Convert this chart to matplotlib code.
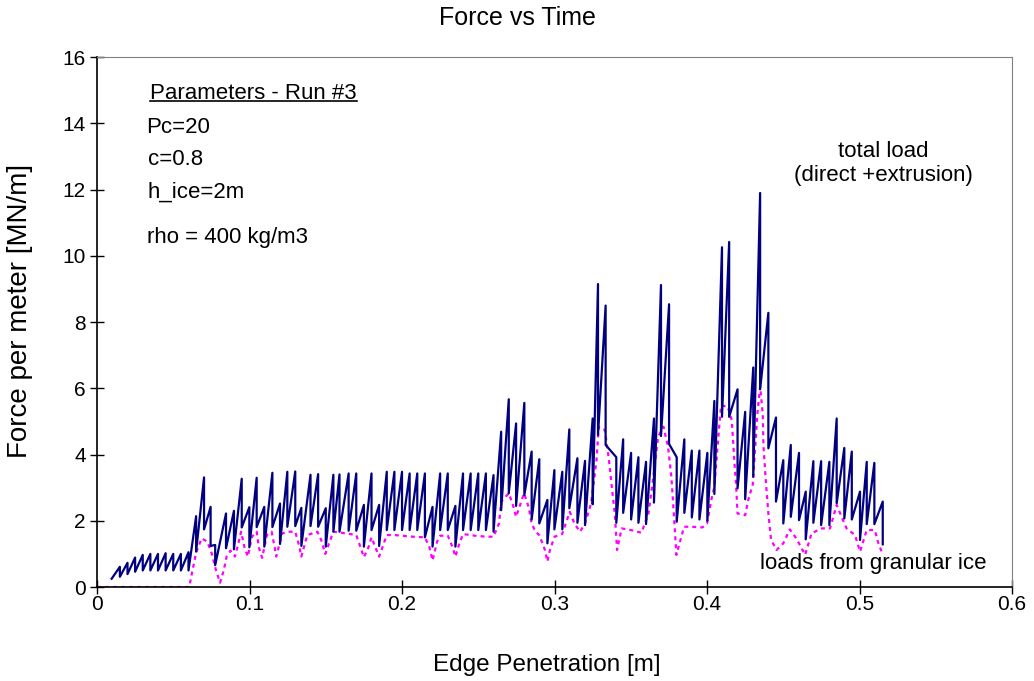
import numpy as np
import matplotlib.pyplot as plt
from matplotlib.lines import Line2D

plt.rcParams['font.family'] = ['Liberation Sans', 'DejaVu Sans']

# total load (direct + extrusion): at each penetration step the load climbs to
# a peak and then drops back (failure) at the same penetration
tooth_x = [0.0096, 0.015, 0.02, 0.025, 0.03, 0.035, 0.04, 0.045, 0.05, 0.055, 0.06,
           0.065, 0.0702, 0.0745, 0.0775, 0.0846, 0.0898, 0.0949, 0.0999, 0.1047, 0.1097,
           0.115, 0.12, 0.1248, 0.13, 0.134, 0.14, 0.145, 0.15, 0.155, 0.159,
           0.165, 0.17, 0.175, 0.18, 0.185, 0.19, 0.195, 0.2, 0.205, 0.21,
           0.215, 0.22, 0.225, 0.23, 0.235, 0.24, 0.245, 0.25, 0.255, 0.26,
           0.265, 0.27, 0.2748, 0.2802, 0.285, 0.29, 0.2953, 0.2999, 0.3051, 0.3097,
           0.315, 0.32, 0.325, 0.3285, 0.3335, 0.3405, 0.345, 0.3502, 0.355, 0.36,
           0.3652, 0.3698, 0.3751, 0.3801, 0.3851, 0.39, 0.395, 0.4002, 0.4048, 0.4098,
           0.4145, 0.42, 0.425, 0.4303, 0.4348, 0.4402, 0.4452, 0.45, 0.4549, 0.4603,
           0.4647, 0.4697, 0.4748, 0.4802, 0.485, 0.49, 0.4949, 0.5003, 0.5047, 0.5097,
           0.5152]
tooth_peak = [0.25, 0.61, 0.73, 0.89, 0.97, 1.0, 1.0, 1.02, 1.0, 1.0, 1.05,
              2.14, 3.31, 2.42, 1.27, 2.22, 2.3, 3.27, 2.41, 3.3, 2.42,
              3.45, 2.52, 3.48, 3.49, 2.39, 3.39, 3.41, 2.38, 3.39, 3.4,
              3.43, 3.43, 2.48, 3.43, 2.48, 3.48, 3.48, 3.48, 3.43, 3.43,
              3.43, 2.42, 3.43, 3.43, 2.45, 3.43, 3.43, 3.43, 3.43, 3.38,
              4.69, 5.67, 4.94, 5.56, 4.09, 3.86, 2.63, 3.53, 3.48, 4.76,
              3.89, 3.81, 5.09, 9.15, 8.5, 3.92, 4.46, 4.05, 3.92, 3.78,
              5.09, 9.12, 8.54, 3.92, 4.46, 4.12, 4.12, 4.05, 5.62, 10.26,
              10.42, 5.97, 5.29, 6.63, 11.9, 8.28, 5.12, 3.83, 4.29, 4.05,
              2.88, 3.8, 3.8, 3.78, 5.09, 4.2, 4.09, 2.88, 3.78, 3.75,
              2.58]
tooth_trough = [0.25, 0.31, 0.39, 0.46, 0.5, 0.5, 0.5, 0.5, 0.5, 0.5, 0.5,
                1.07, 1.74, 1.24, 0.66, 1.17, 1.14, 1.8, 1.2, 1.81, 1.22,
                1.81, 1.3, 1.82, 1.84, 1.24, 1.84, 1.82, 1.22, 1.67, 1.67,
                1.7, 1.7, 1.22, 1.72, 1.24, 1.72, 1.72, 1.72, 1.72, 1.72,
                1.5, 1.22, 1.72, 1.72, 1.22, 1.72, 1.72, 1.72, 1.72, 1.67,
                2.32, 2.83, 2.45, 2.78, 2.04, 1.92, 1.32, 1.74, 1.74, 2.38,
                1.94, 1.87, 2.5, 4.59, 4.29, 1.94, 2.24, 2.04, 1.94, 1.9,
                2.55, 4.56, 4.32, 1.97, 2.24, 2.1, 2.04, 2.0, 2.81, 5.14,
                5.14, 2.98, 2.65, 3.33, 5.97, 4.19, 2.58, 1.92, 2.12, 2.02,
                1.44, 1.94, 1.87, 1.87, 2.53, 2.07, 2.04, 1.42, 1.9, 1.9,
                1.29]

# loads from granular ice
gran_x = [0.0, 0.0605, 0.062, 0.065, 0.0686, 0.0723, 0.0752, 0.078, 0.0807, 0.0831,
          0.085, 0.0875, 0.0905, 0.0927, 0.0945, 0.0967, 0.0989, 0.1016, 0.1047, 0.1061,
          0.1083, 0.1114, 0.1145, 0.1165, 0.1175, 0.1215, 0.125, 0.13, 0.1324, 0.134,
          0.1379, 0.1445, 0.147, 0.1497, 0.152, 0.155, 0.163, 0.17, 0.1726, 0.175,
          0.178, 0.18, 0.1825, 0.185, 0.1875, 0.19, 0.195, 0.2, 0.207, 0.215,
          0.218, 0.22, 0.223, 0.225, 0.23, 0.233, 0.235, 0.2375, 0.24, 0.248,
          0.255, 0.26, 0.2636, 0.265, 0.27, 0.2727, 0.2748, 0.28, 0.283, 0.285,
          0.2875, 0.29, 0.2937, 0.2953, 0.297, 0.3, 0.305, 0.31, 0.313, 0.3167,
          0.32, 0.324, 0.3275, 0.329, 0.333, 0.3357, 0.338, 0.3395, 0.341, 0.344,
          0.35, 0.357, 0.3616, 0.3648, 0.3679, 0.3714, 0.3744, 0.3766, 0.3782, 0.3799,
          0.382, 0.385, 0.39, 0.397, 0.4, 0.4028, 0.4048, 0.4074, 0.4092, 0.4136,
          0.4162, 0.418, 0.419, 0.42, 0.425, 0.427, 0.43, 0.433, 0.4348, 0.4365,
          0.437, 0.4385, 0.4402, 0.442, 0.4456, 0.45, 0.4543, 0.4585, 0.4643, 0.4685,
          0.4751, 0.4806, 0.485, 0.4882, 0.4915, 0.497, 0.5003, 0.5047, 0.51, 0.512,
          0.515]
gran_y = [0.0, 0.0, 0.36, 1.04, 1.47, 1.37, 1.02, 0.51, 0.13, 0.5,
          0.92, 1.1, 0.92, 1.32, 1.67, 1.2, 0.92, 1.52, 1.67, 1.2,
          0.88, 1.57, 1.67, 1.2, 0.92, 1.62, 1.67, 1.67, 1.27, 0.92,
          1.57, 1.67, 1.42, 1.0, 1.3, 1.67, 1.62, 1.57, 1.22, 0.9,
          1.2, 1.5, 1.2, 0.92, 1.25, 1.57, 1.57, 1.55, 1.52, 1.5,
          1.2, 0.8, 1.37, 1.55, 1.55, 1.22, 0.92, 1.3, 1.6, 1.55,
          1.52, 1.52, 1.92, 2.58, 2.83, 2.48, 2.12, 2.83, 2.42, 1.92,
          1.67, 1.57, 1.12, 0.77, 1.12, 1.52, 1.6, 2.27, 1.92, 1.67,
          1.92, 2.53, 3.83, 4.84, 4.74, 3.83, 2.83, 2.22, 1.12, 1.77,
          1.72, 1.64, 2.22, 3.33, 4.54, 4.84, 4.24, 3.33, 2.22, 0.97,
          1.33, 1.82, 1.82, 1.8, 1.92, 2.63, 3.03, 4.54, 5.49, 5.44,
          5.04, 3.73, 3.13, 2.22, 2.17, 2.63, 3.1, 5.24, 6.05, 5.24,
          4.24, 3.23, 2.22, 1.42, 1.12, 1.32, 1.74, 1.47, 0.97, 1.62,
          1.77, 1.77, 2.48, 2.12, 1.77, 1.57, 1.07, 1.72, 1.72, 1.37,
          1.0]

x_ticks = [0, 0.1, 0.2, 0.3, 0.4, 0.5, 0.6]
x_labels = ['0', '0.1', '0.2', '0.3', '0.4', '0.5', '0.6']
y_ticks = [0, 2, 4, 6, 8, 10, 12, 14, 16]

params = ['Pc=20', 'c=0.8', 'h_ice=2m', 'rho = 400 kg/m3']

total_x = np.repeat(tooth_x, 2)
total_y = np.column_stack([tooth_peak, tooth_trough]).ravel()

fig = plt.figure(figsize=(10.34, 6.81), dpi=100)
ax = fig.add_axes([0.0938, 0.138, 0.885, 0.778])

ax.plot(total_x, total_y, color='#000080', lw=1.6, zorder=3)
ax.plot(gran_x, gran_y, color='#FF00FF', lw=1.6, ls=(0, (1.8, 1.8)), zorder=2)

ax.set_xlim(0, 0.6)
ax.set_ylim(0, 16)
ax.set_xticks(x_ticks)
ax.set_xticklabels(x_labels)
ax.set_yticks(y_ticks)
ax.tick_params(direction='inout', length=10, width=1, labelsize=15)
ax.tick_params(axis='x', pad=1)
ax.tick_params(axis='y', pad=3)
for s in ['top', 'right']:
    ax.spines[s].set_color('#808080')
for s in ['left', 'bottom']:
    ax.spines[s].set_linewidth(1.2)

fig.text(0.5, 0.9736, 'Force vs Time', ha='center', va='center', fontsize=18)
fig.text(0.529, 0.0235, 'Edge Penetration [m]', ha='center', va='center', fontsize=17.5)
fig.text(0.0193, 0.543, 'Force per meter [MN/m]', ha='center', va='center',
         rotation=90, fontsize=20)

head = ax.text(0.0348, 14.91, 'Parameters - Run #3', fontsize=16, va='center')
ax.text(0.0321, 13.89, params[0], fontsize=16, va='center')
ax.text(0.0334, 12.92, params[1], fontsize=16, va='center')
ax.text(0.0328, 11.92, params[2], fontsize=16, va='center')
ax.text(0.0328, 10.57, params[3], fontsize=16, va='center')

ax.text(0.5154, 12.8, 'total load\n(direct +extrusion)', fontsize=16,
        ha='center', va='center', linespacing=1.2)
ax.text(0.4348, 0.72, 'loads from granular ice', fontsize=16, va='center')

# underline the parameter heading
fig.canvas.draw()
bb = head.get_window_extent().transformed(fig.transFigure.inverted())
fig.add_artist(Line2D([bb.x0, bb.x1], [bb.y0 + 0.004, bb.y0 + 0.004],
                      color='black', lw=1.2, transform=fig.transFigure))

fig.savefig('out.png', dpi=100)
